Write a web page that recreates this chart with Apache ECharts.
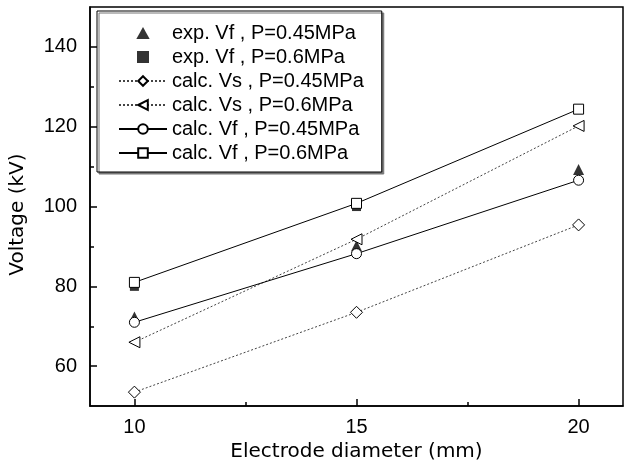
<!DOCTYPE html>
<html>
<head>
<meta charset="utf-8">
<script src="https://cdn.jsdelivr.net/npm/echarts@6/dist/echarts.min.js"></script>
<style>html,body{margin:0;padding:0;background:#fff}#c{width:624px;height:467px}</style>
</head>
<body>
<div id="c"></div>
<script>
const diameters = [10, 15, 20];
const expVf045 = [72.3, 90.2, 109.3];
const expVf06 = [80.0, 100.0, null];
const calcVs045 = [53.5, 73.5, 95.4];
const calcVs06 = [66.0, 91.8, 120.2];
const calcVf045 = [71.0, 88.2, 106.6];
const calcVf06 = [81.0, 100.8, 124.4];

const xTicks = [10, 15, 20];
const xMinorTicks = [12.5, 17.5];
const yTicks = [60, 80, 100, 120, 140];
const yMinorTicks = [70, 90, 110, 130];

const names = [
  'exp. Vf , P=0.45MPa',
  'exp. Vf , P=0.6MPa',
  'calc. Vs , P=0.45MPa',
  'calc. Vs , P=0.6MPa',
  'calc. Vf , P=0.45MPa',
  'calc. Vf , P=0.6MPa'
];

function pts(vals) { return diameters.map((d, i) => [d, vals[i]]).filter(p => p[1] != null); }

const F = 'Liberation Sans, Arial, sans-serif';
const openStyle = { color: '#fff', borderColor: '#000', borderWidth: 1 };
const dotted = { color: '#444', width: 1, type: [2, 2] };
const solid = { color: '#000', width: 1, type: 'solid' };
const triPath = 'path://M5,0 L10,9 L0,9 Z';
const sqPath = 'path://M0,0 L9,0 L9,9 L0,9 Z';

const chart = echarts.init(document.getElementById('c'));
chart.setOption({
  animation: false,
  backgroundColor: '#fff',
  grid: { left: 90, right: 1, top: 7, bottom: 60, show: true, borderColor: '#000', borderWidth: 1.5, backgroundColor: 'transparent' },
  legend: {
    orient: 'vertical', left: 97, top: 11,
    padding: [12, 18, 9, 21],
    itemWidth: 48, itemHeight: 12, itemGap: 4,
    symbolKeepAspect: true,
    borderColor: '#000', borderWidth: 1, backgroundColor: '#fff',
    shadowColor: '#777', shadowOffsetX: 2, shadowOffsetY: 2, shadowBlur: 0,
    textStyle: { fontFamily: F, fontSize: 20, lineHeight: 20, color: '#000' },
    data: [
      { name: names[0], icon: triPath, itemStyle: { color: '#000' } },
      { name: names[1], icon: sqPath, itemStyle: { color: '#000' } },
      names[2], names[3], names[4], names[5]
    ]
  },
  xAxis: [
    {
      type: 'value', min: 9, max: 21,
      axisLine: { show: true, lineStyle: { color: '#000', width: 1.5 } },
      axisTick: { show: true, inside: true, length: 7, customValues: xTicks, lineStyle: { color: '#000', width: 1.5 } },
      axisLabel: { customValues: xTicks, fontFamily: F, fontSize: 20, color: '#000', margin: 11 },
      splitLine: { show: false },
      name: 'Electrode diameter (mm)', nameLocation: 'middle', nameGap: 32,
      nameTextStyle: { fontFamily: 'DejaVu Sans', fontSize: 20, color: '#000' }
    },
    {
      type: 'value', min: 9, max: 21, position: 'bottom',
      axisLine: { show: false },
      axisTick: { show: true, inside: true, length: 4, customValues: xMinorTicks, lineStyle: { color: '#000', width: 1.5 } },
      axisLabel: { show: false },
      splitLine: { show: false }
    }
  ],
  yAxis: [
    {
      type: 'value', min: 50, max: 150,
      axisLine: { show: true, lineStyle: { color: '#000', width: 1.5 } },
      axisTick: { show: true, inside: true, length: 7, customValues: yTicks, lineStyle: { color: '#000', width: 1.5 } },
      axisLabel: { customValues: yTicks, fontFamily: F, fontSize: 20, color: '#000', margin: 13 },
      splitLine: { show: false },
      name: 'Voltage (kV)', nameLocation: 'middle', nameGap: 62,
      nameTextStyle: { fontFamily: 'DejaVu Sans', fontSize: 20, color: '#000', padding: [0, 16, 0, 0] }
    },
    {
      type: 'value', min: 50, max: 150, position: 'left',
      axisLine: { show: false },
      axisTick: { show: true, inside: true, length: 4, customValues: yMinorTicks, lineStyle: { color: '#000', width: 1.5 } },
      axisLabel: { show: false },
      splitLine: { show: false }
    }
  ],
  series: [
    { name: names[0], type: 'scatter', data: pts(expVf045), symbol: 'triangle', symbolSize: 11, itemStyle: { color: '#000' }, z: 2 },
    { name: names[1], type: 'scatter', data: pts(expVf06), symbol: 'rect', symbolSize: 9, itemStyle: { color: '#000' }, z: 2 },
    { name: names[2], type: 'line', data: pts(calcVs045), symbol: 'diamond', symbolSize: 12, showAllSymbol: true, lineStyle: dotted, itemStyle: openStyle, z: 3 },
    { name: names[3], type: 'line', data: pts(calcVs06), symbol: 'triangle', symbolRotate: 90, symbolSize: 11, lineStyle: dotted, itemStyle: openStyle, z: 3 },
    { name: names[4], type: 'line', data: pts(calcVf045), symbol: 'circle', symbolSize: 10, lineStyle: solid, itemStyle: openStyle, z: 3 },
    { name: names[5], type: 'line', data: pts(calcVf06), symbol: 'rect', symbolSize: 10, lineStyle: solid, itemStyle: openStyle, z: 3 }
  ]
});
</script>
</body>
</html>
